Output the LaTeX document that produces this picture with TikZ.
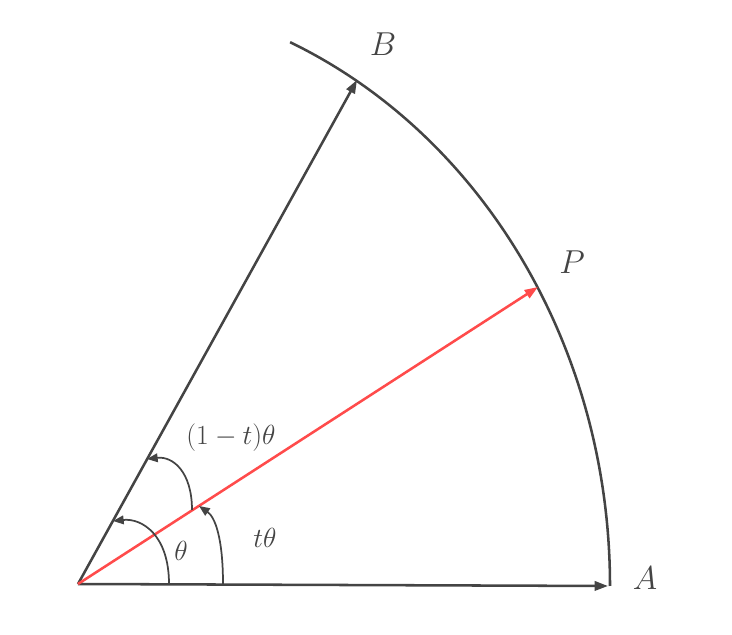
\documentclass[tikz,border=0pt]{standalone}
\usepackage{amsmath}
\usepackage{amssymb}
\usepackage[dvipsnames]{xcolor}
\usepackage{tikz}
\usetikzlibrary{arrows.meta}

\definecolor{vecgray}{RGB}{68,68,68}
\definecolor{vecred}{RGB}{255,75,75}

\begin{document}
\begin{tikzpicture}[x=0.75pt, y=0.75pt]
    \tikzstyle{vec} = [vecgray, line width=1.9pt, -{Triangle[length=10pt, width=7pt]}]
    \tikzstyle{redvec} = [vec, vecred]
    \tikzstyle{anglearc} = [vecgray, line width=1.3pt, -{Triangle[length=8pt, width=6.5pt]}]
    \tikzstyle{ptlabel} = [inner sep=0pt, text=vecgray, font=\Huge]
    \tikzstyle{anglabel} = [inner sep=0pt, text=vecgray, font=\huge]

    \useasboundingbox (0,0) rectangle (732,635);

    % Points
    \coordinate (O) at (78,51);
    \coordinate (A) at (608,49);
    \coordinate (B) at (357,555);
    \coordinate (P) at (538,348);
    \coordinate (arcstart) at (610,49);

    % Unit arc
    \draw[vecgray, line width=1.9pt] (arcstart) arc[start angle=0, end angle=66.5, x radius=532, y radius=593];

    % Vectors
    \draw[vec] (O) -- (A);
    \draw[vec] (O) -- (B);
    \draw[redvec] (O) -- (P);

    % Angles
    \draw[anglearc] (169,51) .. controls (169,100) and (142,117) .. (113,114);
    \draw[anglearc] (192,125) .. controls (192,163) and (173,179) .. (147,176);
    \draw[anglearc] (223,51) .. controls (223,97) and (215,118) .. (199,129);

    % Labels
    \node[ptlabel] (lblA) at (645,57) {$A$};
    \node[ptlabel] (lblB) at (383,591) {$B$};
    \node[ptlabel] (lblP) at (572,373) {$P$};
    \node[anglabel] (lbltheta) at (181,84) {$\theta$};
    \node[anglabel] (lblt) at (265,97) {$t\theta$};
    \node[anglabel] (lblone) at (231,197) {$(1-t)\theta$};
\end{tikzpicture}
\end{document}
